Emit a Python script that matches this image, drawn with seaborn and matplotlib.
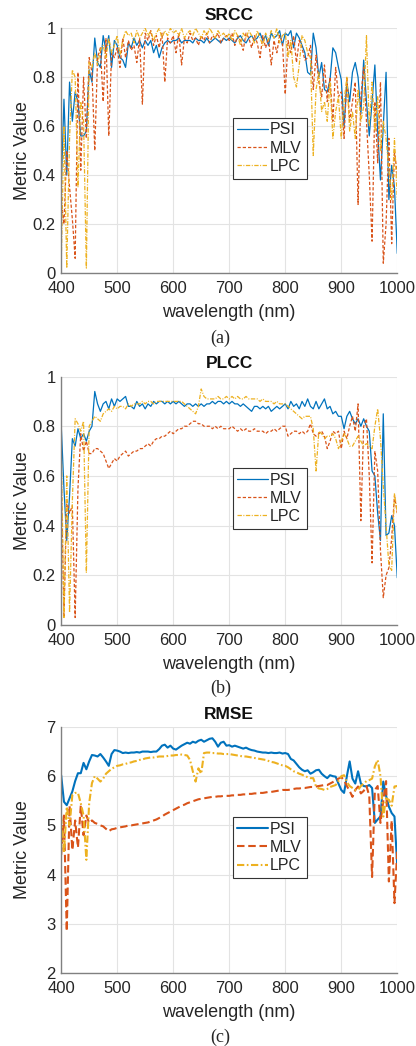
import matplotlib
matplotlib.use("Agg")
import matplotlib.pyplot as plt
import numpy as np
import seaborn as sns

# ---- data (5 nm grid) ----
wavelength = np.arange(400, 1001, 5)

srcc_psi = [
    0.33, 0.71, 0.40, 0.78, 0.62, 0.74, 0.70, 0.56, 0.56, 0.58,
    0.83, 0.78, 0.96, 0.86, 0.84, 0.97, 0.91, 0.97, 0.84, 0.95,
    0.93, 0.88, 0.87, 0.84, 0.94, 0.92, 0.96, 0.93, 0.95, 0.92,
    0.95, 0.93, 0.95, 0.90, 0.93, 0.88, 0.92, 0.94, 0.95, 0.94,
    0.95, 0.95, 0.96, 0.94, 0.95, 0.95, 0.95, 0.94, 0.96, 0.95,
    0.95, 0.94, 0.96, 0.94, 0.95, 0.96, 0.95, 0.94, 0.96, 0.95,
    0.96, 0.95, 0.94, 0.96, 0.97, 0.95, 0.94, 0.96, 0.97, 0.95,
    0.96, 0.98, 0.95, 0.97, 0.93, 0.98, 0.96, 0.97, 0.99, 0.93,
    0.98, 0.97, 0.99, 0.92, 0.98, 0.96, 0.93, 0.90, 0.82, 0.81,
    0.98, 0.92, 0.80, 0.86, 0.75, 0.74, 0.79, 0.92, 0.90, 0.84,
    0.79, 0.60, 0.78, 0.70, 0.82, 0.86, 0.80, 0.65, 0.87, 0.70,
    0.56, 0.70, 0.85, 0.58, 0.38, 0.60, 0.82, 0.30, 0.44, 0.35,
    0.08,
]
srcc_mlv = [
    0.30, 0.20, 0.50, 0.35, 0.22, 0.06, 0.82, 0.42, 0.80, 0.55,
    0.88, 0.82, 0.50, 0.88, 0.92, 0.70, 0.96, 0.56, 0.90, 0.88,
    0.92, 0.84, 0.96, 0.88, 0.95, 0.91, 0.93, 0.86, 0.96, 0.69,
    0.98, 0.95, 0.99, 0.93, 0.97, 0.92, 0.98, 0.78, 0.96, 0.94,
    0.97, 0.90, 0.98, 0.85, 0.96, 0.94, 0.98, 0.95, 0.96, 0.93,
    0.97, 0.95, 0.98, 0.94, 0.97, 0.96, 0.98, 0.94, 0.96, 0.97,
    0.95, 0.98, 0.93, 0.97, 0.95, 0.91, 0.98, 0.96, 0.92, 0.97,
    0.94, 0.88, 0.97, 0.92, 0.96, 0.85, 0.95, 0.90, 0.97, 0.94,
    0.73, 0.95, 0.90, 0.97, 0.86, 0.95, 0.92, 0.87, 0.88, 0.93,
    0.75, 0.89, 0.78, 0.72, 0.85, 0.70, 0.80, 0.62, 0.84, 0.72,
    0.74, 0.55, 0.80, 0.62, 0.70, 0.78, 0.28, 0.72, 0.84, 0.62,
    0.40, 0.13, 0.70, 0.45, 0.78, 0.04, 0.20, 0.55, 0.12, 0.50,
    0.40,
]
srcc_lpc = [
    0.02, 0.60, 0.02, 0.55, 0.83, 0.80, 0.35, 0.70, 0.62, 0.02,
    0.86, 0.84, 0.90, 0.85, 0.91, 0.93, 0.88, 0.96, 0.90, 0.93,
    0.97, 0.89, 0.95, 0.99, 0.97, 0.98, 0.94, 0.99, 0.96, 0.98,
    1.00, 0.97, 0.99, 0.95, 0.98, 1.00, 0.96, 0.99, 0.97, 1.00,
    0.98, 0.99, 0.97, 1.00, 0.96, 0.98, 0.99, 0.97, 1.00, 0.98,
    0.96, 0.99, 0.97, 1.00, 0.98, 0.96, 0.99, 0.97, 0.98, 0.96,
    0.98, 0.95, 0.99, 0.97, 0.93, 0.98, 0.96, 0.99, 0.97, 0.94,
    0.99, 0.96, 0.93, 0.98, 0.95, 0.99, 0.96, 1.00, 0.94, 0.97,
    0.98, 0.88, 0.95, 0.80, 0.76, 0.85, 0.97, 0.95, 0.90, 0.88,
    0.48, 0.75, 0.82, 0.66, 0.70, 0.62, 0.78, 0.55, 0.66, 0.72,
    0.55, 0.70, 0.80, 0.58, 0.66, 0.55, 0.75, 0.62, 0.68, 0.97,
    0.60, 0.78, 0.58, 0.72, 0.50, 0.62, 0.55, 0.42, 0.30, 0.55,
    0.30,
]

plcc_psi = [
    0.81, 0.55, 0.34, 0.52, 0.75, 0.72, 0.79, 0.75, 0.77, 0.74,
    0.78, 0.80, 0.94, 0.89, 0.86, 0.89, 0.90, 0.87, 0.91, 0.88,
    0.91, 0.90, 0.91, 0.92, 0.88, 0.88, 0.87, 0.90, 0.88, 0.89,
    0.87, 0.89, 0.88, 0.90, 0.89, 0.90, 0.90, 0.89, 0.90, 0.89,
    0.90, 0.89, 0.90, 0.89, 0.88, 0.89, 0.89, 0.88, 0.89, 0.88,
    0.89, 0.88, 0.89, 0.89, 0.90, 0.89, 0.90, 0.90, 0.89, 0.90,
    0.89, 0.90, 0.89, 0.89, 0.88, 0.89, 0.88, 0.87, 0.86, 0.88,
    0.88, 0.87, 0.88, 0.87, 0.88, 0.86, 0.87, 0.88, 0.87, 0.88,
    0.89, 0.87, 0.90, 0.88, 0.89, 0.87, 0.90, 0.88, 0.91, 0.88,
    0.87, 0.90, 0.87, 0.89, 0.91, 0.87, 0.88, 0.85, 0.86, 0.84,
    0.84, 0.79, 0.84, 0.86, 0.83, 0.81, 0.83, 0.80, 0.83, 0.80,
    0.78, 0.62, 0.60, 0.45, 0.34, 0.85, 0.36, 0.37, 0.44, 0.40,
    0.19,
]
plcc_mlv = [
    0.62, 0.03, 0.50, 0.45, 0.48, 0.03, 0.55, 0.77, 0.70, 0.74,
    0.69, 0.69, 0.71, 0.71, 0.70, 0.69, 0.66, 0.63, 0.65, 0.67,
    0.66, 0.68, 0.69, 0.70, 0.68, 0.69, 0.70, 0.70, 0.71, 0.71,
    0.72, 0.73, 0.72, 0.74, 0.75, 0.75, 0.76, 0.76, 0.77, 0.78,
    0.77, 0.78, 0.79, 0.79, 0.80, 0.80, 0.81, 0.82, 0.82, 0.81,
    0.81, 0.80, 0.80, 0.80, 0.79, 0.80, 0.79, 0.80, 0.79, 0.79,
    0.79, 0.80, 0.79, 0.78, 0.79, 0.78, 0.79, 0.78, 0.78, 0.79,
    0.78, 0.78, 0.78, 0.77, 0.78, 0.78, 0.79, 0.78, 0.79, 0.80,
    0.80, 0.76, 0.77, 0.78, 0.78, 0.77, 0.78, 0.77, 0.78, 0.81,
    0.77, 0.76, 0.77, 0.78, 0.76, 0.71, 0.74, 0.78, 0.77, 0.78,
    0.71, 0.78, 0.75, 0.80, 0.84, 0.78, 0.89, 0.42, 0.80, 0.83,
    0.60, 0.25, 0.70, 0.62, 0.30, 0.11, 0.20, 0.23, 0.35, 0.52,
    0.45,
]
plcc_lpc = [
    0.75, 0.03, 0.60, 0.05, 0.50, 0.83, 0.81, 0.78, 0.82, 0.21,
    0.80, 0.82, 0.84, 0.83, 0.82, 0.85, 0.86, 0.87, 0.86, 0.88,
    0.87, 0.88, 0.88, 0.87, 0.89, 0.88, 0.89, 0.89, 0.89, 0.90,
    0.89, 0.90, 0.90, 0.89, 0.90, 0.90, 0.90, 0.90, 0.90, 0.90,
    0.90, 0.90, 0.90, 0.90, 0.89, 0.88, 0.87, 0.86, 0.85, 0.88,
    0.95, 0.92, 0.91, 0.91, 0.91, 0.91, 0.92, 0.91, 0.91, 0.92,
    0.91, 0.92, 0.91, 0.92, 0.91, 0.91, 0.92, 0.91, 0.91, 0.91,
    0.91, 0.90, 0.91, 0.90, 0.90, 0.90, 0.89, 0.90, 0.89, 0.89,
    0.89, 0.88, 0.87, 0.86, 0.85, 0.84, 0.83, 0.84, 0.84, 0.84,
    0.79, 0.62, 0.78, 0.77, 0.75, 0.76, 0.76, 0.77, 0.75, 0.71,
    0.74, 0.77, 0.75, 0.72, 0.72, 0.74, 0.76, 0.74, 0.72, 0.73,
    0.72, 0.71, 0.80, 0.87, 0.75, 0.56, 0.40, 0.24, 0.22, 0.53,
    0.45,
]

rmse_psi = [
    6.02, 5.48, 5.41, 5.55, 5.69, 5.90, 6.06, 6.06, 6.27, 6.14,
    6.30, 6.43, 6.42, 6.40, 6.45, 6.38, 6.30, 6.21, 6.45, 6.53,
    6.52, 6.50, 6.47, 6.48, 6.47, 6.48, 6.48, 6.49, 6.48, 6.50,
    6.50, 6.50, 6.49, 6.50, 6.50, 6.55, 6.62, 6.64, 6.58, 6.62,
    6.56, 6.54, 6.58, 6.62, 6.65, 6.68, 6.66, 6.70, 6.68, 6.72,
    6.74, 6.70, 6.73, 6.76, 6.77, 6.70, 6.60, 6.68, 6.70, 6.62,
    6.63, 6.60, 6.62, 6.60, 6.58, 6.56, 6.58, 6.55, 6.53, 6.52,
    6.50, 6.49, 6.48, 6.48, 6.47, 6.48, 6.47, 6.47, 6.48, 6.46,
    6.47, 6.45, 6.35, 6.32, 6.25, 6.18, 6.13, 6.10, 6.12, 6.05,
    6.08, 6.12, 6.13, 6.05, 6.00, 5.96, 6.02, 6.00, 5.99, 5.85,
    5.72, 5.66, 6.00, 6.30, 5.95, 5.85, 6.10, 5.85, 5.80, 5.79,
    5.82, 5.76, 5.05, 5.12, 5.18, 5.89, 5.60, 5.38, 5.25, 5.18,
    4.16,
]
rmse_mlv = [
    4.40, 5.20, 2.85, 5.40, 4.50, 5.10, 4.55, 5.40, 4.80, 5.20,
    5.05, 5.10, 5.05, 5.03, 5.00, 4.98, 4.93, 4.88, 4.92, 4.93,
    4.95, 4.96, 4.97, 4.98, 5.00, 5.00, 5.01, 5.02, 5.03, 5.04,
    5.05, 5.06, 5.08, 5.10, 5.12, 5.15, 5.18, 5.22, 5.25, 5.28,
    5.31, 5.34, 5.37, 5.40, 5.42, 5.45, 5.47, 5.49, 5.51, 5.53,
    5.54, 5.55, 5.56, 5.57, 5.58, 5.58, 5.59, 5.59, 5.60, 5.60,
    5.60, 5.61, 5.61, 5.62, 5.62, 5.63, 5.63, 5.64, 5.64, 5.65,
    5.65, 5.66, 5.66, 5.67, 5.68, 5.68, 5.69, 5.70, 5.71, 5.72,
    5.72, 5.72, 5.73, 5.74, 5.75, 5.75, 5.76, 5.76, 5.77, 5.78,
    5.78, 5.79, 5.80, 5.81, 5.82, 5.82, 5.85, 5.88, 5.92, 5.95,
    5.98, 5.92, 5.80, 5.70, 5.58, 5.72, 5.79, 5.65, 5.70, 5.80,
    5.60, 3.95, 5.72, 5.80, 5.05, 5.50, 5.90, 3.86, 5.10, 3.42,
    4.50,
]
rmse_lpc = [
    5.18, 4.44, 5.38, 5.00, 5.62, 5.66, 5.66, 5.45, 5.20, 4.30,
    5.45, 5.86, 6.00, 5.95, 5.89, 5.95, 6.05, 6.10, 6.15, 6.18,
    6.21, 6.22, 6.24, 6.25, 6.27, 6.28, 6.30, 6.31, 6.33, 6.34,
    6.36, 6.37, 6.38, 6.38, 6.39, 6.40, 6.40, 6.40, 6.41, 6.42,
    6.42, 6.43, 6.43, 6.44, 6.43, 6.42, 6.33, 6.10, 5.89, 6.16,
    6.05, 6.47, 6.48, 6.48, 6.47, 6.47, 6.46, 6.46, 6.45, 6.45,
    6.45, 6.44, 6.43, 6.42, 6.41, 6.40, 6.40, 6.39, 6.38, 6.37,
    6.36, 6.35, 6.34, 6.33, 6.31, 6.29, 6.28, 6.26, 6.24, 6.22,
    6.21, 6.18, 6.14, 6.10, 6.08, 6.05, 6.03, 6.00, 5.98, 5.96,
    5.96, 5.79, 5.75, 5.74, 5.72, 5.74, 5.78, 5.80, 5.82, 5.90,
    6.00, 6.02, 5.88, 5.80, 5.76, 5.72, 5.72, 5.80, 5.85, 5.90,
    5.92, 5.95, 6.20, 6.33, 6.00, 5.18, 5.55, 5.52, 5.40, 5.79,
    5.80,
]

titles = ["SRCC", "PLCC", "RMSE"]
captions = ["(a)", "(b)", "(c)"]
x_ticks = [400, 500, 600, 700, 800, 900, 1000]
corr_ticks = [0, 0.2, 0.4, 0.6, 0.8, 1]
corr_tick_labels = ["0", "0.2", "0.4", "0.6", "0.8", "1"]
rmse_ticks = [2, 3, 4, 5, 6, 7]
rmse_tick_labels = ["2", "3", "4", "5", "6", "7"]

panels = [
    (srcc_psi, srcc_mlv, srcc_lpc, (0, 1), corr_ticks, corr_tick_labels),
    (plcc_psi, plcc_mlv, plcc_lpc, (0, 1), corr_ticks, corr_tick_labels),
    (rmse_psi, rmse_mlv, rmse_lpc, (2, 7), rmse_ticks, rmse_tick_labels),
]

# ---- style ----
sns.set_theme(style="whitegrid")
plt.rcParams["font.family"] = ["Liberation Sans", "DejaVu Sans"]
plt.rcParams["grid.color"] = "#e3e3e3"
plt.rcParams["grid.linewidth"] = 0.8

c_psi = "#0072BD"
c_mlv = "#D95319"
c_lpc = "#EDB120"

fig = plt.figure(figsize=(4.16, 10.46), dpi=100)

# axes boxes in figure fraction: left, bottom, width, height
boxes = [
    [0.147, 0.739, 0.808, 0.234],
    [0.147, 0.4025, 0.808, 0.2375],
    [0.147, 0.0698, 0.808, 0.2352],
]
caption_y = [0.677, 0.342, 0.0086]

for i, (psi, mlv, lpc, ylim, yt, ytl) in enumerate(panels):
    ax = fig.add_axes(boxes[i])
    thick = i == 2
    lw = 1.5 if thick else 0.9
    mlv_dash = (0, (3.6, 1.8)) if thick else (0, (2.6, 1.6))
    lpc_dash = (0, (3.5, 1.2, 0.8, 1.2))

    sns.lineplot(x=wavelength, y=psi, ax=ax, color=c_psi, linewidth=lw, label="PSI")
    sns.lineplot(x=wavelength, y=mlv, ax=ax, color=c_mlv, linewidth=lw,
                 linestyle=mlv_dash, label="MLV")
    sns.lineplot(x=wavelength, y=lpc, ax=ax, color=c_lpc, linewidth=lw,
                 linestyle=lpc_dash, label="LPC")

    ax.set_xlim(400, 1000)
    ax.set_ylim(*ylim)
    ax.set_xticks(x_ticks)
    ax.set_xticklabels([str(t) for t in x_ticks])
    ax.set_yticks(yt)
    ax.set_yticklabels(ytl)
    ax.tick_params(axis="both", labelsize=12, labelcolor="#262626", length=3,
                   direction="in", color="#808080")
    ax.tick_params(axis="x", pad=6)
    ax.tick_params(axis="y", pad=4)

    for side in ["top", "right"]:
        ax.spines[side].set_visible(False)
    for side in ["left", "bottom"]:
        ax.spines[side].set_color("#808080")
        ax.spines[side].set_linewidth(1.0)

    ax.set_title(titles[i], fontsize=12.5, fontweight="bold", pad=6, color="#111111")
    ax.set_xlabel("wavelength (nm)", fontsize=13, color="#262626")
    ax.set_ylabel("Metric Value", fontsize=13, color="#262626")
    ax.xaxis.set_label_coords(0.5, -0.125)
    ax.yaxis.set_label_coords(-0.09, 0.5)

    leg = ax.legend(loc="center", bbox_to_anchor=(0.62, 0.51), fontsize=11.5,
                    frameon=True, fancybox=False, framealpha=1,
                    edgecolor="#333333", handlelength=1.9, handletextpad=0.15,
                    borderpad=0.3, labelspacing=0.2)
    leg.get_frame().set_linewidth(0.8)

    fig.text(0.53, caption_y[i], captions[i], ha="center", va="center",
             fontsize=13, family=["Liberation Serif", "DejaVu Serif"])

fig.savefig("out.png", dpi=100)
